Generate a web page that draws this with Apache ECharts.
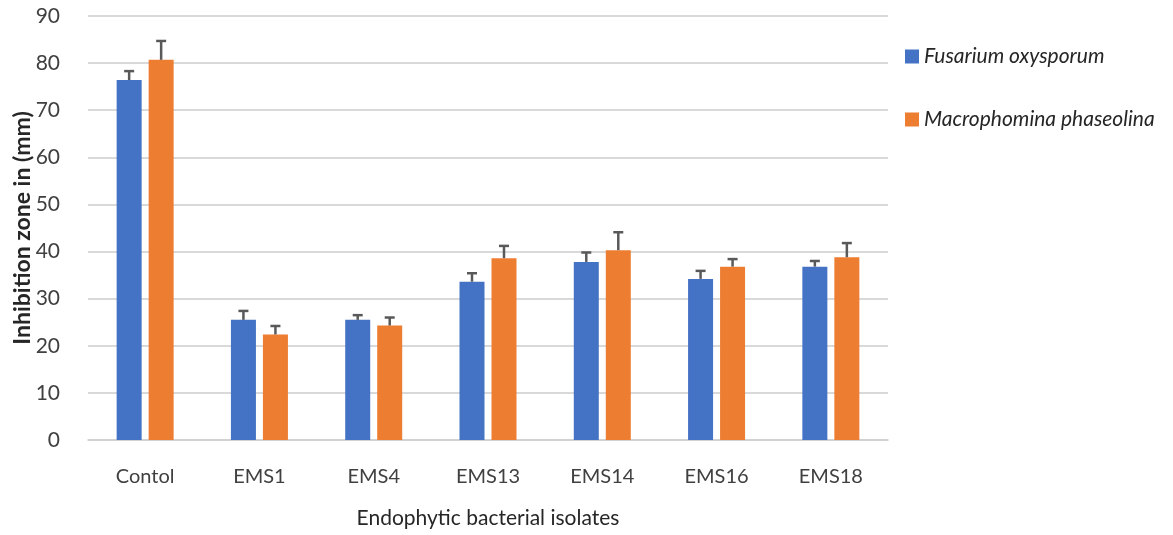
<!DOCTYPE html>
<html><head><meta charset="utf-8">
<script src="https://cdn.jsdelivr.net/npm/echarts@6/dist/echarts.min.js"></script>
<style>html,body{margin:0;padding:0;background:#fff}#c{width:1173px;height:535px}</style>
</head><body><div id="c"></div>
<script>
const categories = ['Contol','EMS1','EMS4','EMS13','EMS14','EMS16','EMS18'];
const fusariumValues = [76.4, 25.5, 25.5, 33.6, 37.8, 34.2, 36.8];
const fusariumErrors = [1.9, 1.9, 1.0, 1.8, 2.0, 1.7, 1.2];
const macroValues = [80.7, 22.4, 24.3, 38.6, 40.3, 36.8, 38.8];
const macroErrors = [4.0, 1.8, 1.7, 2.6, 3.8, 1.6, 3.0];
const yTicks = [0,10,20,30,40,50,60,70,80,90];

const BAR_W = 25, GAP = 7;
const FONT = 'Lato';

function errSeries(name, vals, errs, offset) {
  return {
    type: 'custom', name: name + ' err', silent: true, z: 5,
    data: vals.map((v, i) => [i, v, v + errs[i]]),
    renderItem: function (params, api) {
      const base = api.coord([api.value(0), api.value(1)]);
      const top = api.coord([api.value(0), api.value(2)]);
      const x = base[0] + offset;
      const cap = 10;
      const style = { stroke: '#595959', lineWidth: 2.5 };
      return { type: 'group', children: [
        { type: 'line', shape: { x1: x, y1: base[1], x2: x, y2: top[1] }, style },
        { type: 'line', shape: { x1: x - cap/2, y1: top[1], x2: x + cap/2, y2: top[1] }, style }
      ]};
    }
  };
}

const chart = echarts.init(document.getElementById('c'));
chart.setOption({
  animation: false,
  textStyle: { fontFamily: FONT },
  grid: { left: 88, right: 285, top: 16, bottom: 95, containLabel: false, outerBoundsMode: 'none' },
  legend: {
    orient: 'vertical', left: 900, top: 41, itemGap: 42,
    itemWidth: 14, itemHeight: 14, icon: 'rect',
    data: ['Fusarium oxysporum', 'Macrophomina phaseolina'],
    textStyle: { fontFamily: FONT, fontSize: 21, fontStyle: 'italic', color: '#262626' }
  },
  xAxis: {
    type: 'category', data: categories,
    name: 'Endophytic bacterial isolates', nameLocation: 'middle', nameGap: 68, nameMoveOverlap: false,
    nameTextStyle: { fontFamily: FONT, fontSize: 21, color: '#262626' },
    axisLine: { lineStyle: { color: '#d0d0d0', width: 1.5 } },
    axisTick: { show: false },
    axisLabel: { fontSize: 20, color: '#404040', margin: 27 }
  },
  yAxis: {
    type: 'value', min: 0, max: 90, interval: 10,
    name: 'Inhibition zone in (mm)', nameLocation: 'middle', nameGap: 54, nameMoveOverlap: false,
    nameTextStyle: { fontFamily: FONT, fontSize: 23, fontWeight: 'bold', color: '#262626' },
    axisLabel: { fontSize: 21, color: '#404040', margin: 28,
      formatter: v => yTicks.includes(v) ? String(v) : '' },
    axisLine: { show: false }, axisTick: { show: false },
    splitLine: { lineStyle: { color: '#d9d9d9', width: 2 } }
  },
  series: [
    { name: 'Fusarium oxysporum', type: 'bar', data: fusariumValues, barWidth: BAR_W, barGap: (GAP / BAR_W * 100) + '%',
      itemStyle: { color: '#4472c4' } },
    { name: 'Macrophomina phaseolina', type: 'bar', data: macroValues, barWidth: BAR_W,
      itemStyle: { color: '#ed7d31' } },
    errSeries('Fusarium oxysporum', fusariumValues, fusariumErrors, -(BAR_W + GAP) / 2),
    errSeries('Macrophomina phaseolina', macroValues, macroErrors, (BAR_W + GAP) / 2)
  ]
});
</script></body></html>
